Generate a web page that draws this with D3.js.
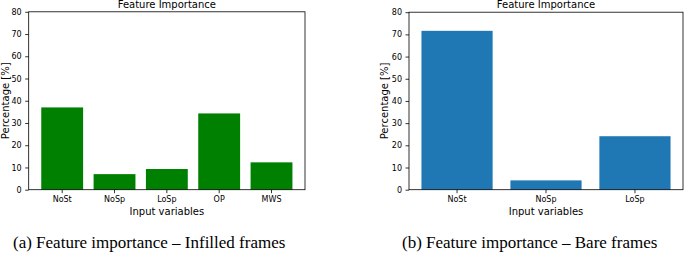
<!DOCTYPE html>
<html>
<head>
<meta charset="utf-8">
<script src="https://cdn.jsdelivr.net/npm/d3@7"></script>
<style>
  body { margin: 0; background: #fff; }
  svg text { font-family: "DejaVu Sans", sans-serif; fill: #000; }
  .caption { font-family: "Liberation Serif", "Times New Roman", serif; font-size: 17px; }
</style>
</head>
<body>
<div id="chart"></div>
<script>
// data
var infilledVars = ["NoSt", "NoSp", "LoSp", "OP", "MWS"];
var infilledValues = [37.0, 7.0, 9.3, 34.3, 12.3];
var bareVars = ["NoSt", "NoSp", "LoSp"];
var bareValues = [71.6, 4.2, 24.1];
var yTicks = [0, 10, 20, 30, 40, 50, 60, 70, 80];
var titleText = "Feature Importance";
var xLabelText = "Input variables";
var yLabelText = "Percentage [%]";
var captions = ["(a) Feature importance \u2013 Infilled frames", "(b) Feature importance \u2013 Bare frames"];

var svg = d3.select("#chart")
  .append("svg")
  .attr("width", 685)
  .attr("height", 253);

function drawPanel(box, cats, vals, color, caption, capX) {
  var n = cats.length;
  var x = d3.scaleBand()
    .domain(cats)
    .range([box.left, box.right])
    .paddingInner(0.2)
    .paddingOuter(0.05 * (n - 0.2));
  var y = d3.scaleLinear().domain([0, 80]).range([box.bottom, box.top]);

  var g = svg.append("g");

  // bars
  g.selectAll("rect.bar")
    .data(vals)
    .enter().append("rect")
    .attr("class", "bar")
    .attr("x", function (d, i) { return x(cats[i]); })
    .attr("width", x.bandwidth())
    .attr("y", function (d) { return y(d); })
    .attr("height", function (d) { return y(0) - y(d); })
    .attr("fill", color);

  // axes
  var xAxis = d3.axisBottom(x).tickSize(3.5).tickPadding(3.5);
  var yAxis = d3.axisLeft(y).tickValues(yTicks).tickSize(3.5).tickPadding(3.5);

  var gx = g.append("g")
    .attr("transform", "translate(0," + box.bottom + ")")
    .call(xAxis);
  var gy = g.append("g")
    .attr("transform", "translate(" + box.left + ",0)")
    .call(yAxis);
  [gx, gy].forEach(function (a) {
    a.select(".domain").remove();
    a.selectAll(".tick line").attr("stroke", "#000").attr("stroke-width", 0.8);
    a.selectAll(".tick text").style("font-size", "8px");
  });

  // frame
  g.append("rect")
    .attr("x", box.left)
    .attr("y", box.top)
    .attr("width", box.right - box.left)
    .attr("height", box.bottom - box.top)
    .attr("fill", "none")
    .attr("stroke", "#000")
    .attr("stroke-width", 0.8);

  var cx = (box.left + box.right) / 2;
  g.append("text")
    .attr("x", cx)
    .attr("y", 7.5)
    .attr("text-anchor", "middle")
    .style("font-size", "10px")
    .text(titleText);

  g.append("text")
    .attr("x", cx)
    .attr("y", 215)
    .attr("text-anchor", "middle")
    .style("font-size", "10px")
    .text(xLabelText);

  g.append("text")
    .attr("transform", "translate(" + box.ylab + "," + ((box.top + box.bottom) / 2) + ") rotate(-90)")
    .attr("text-anchor", "middle")
    .attr("dy", "0.35em")
    .style("font-size", "10px")
    .text(yLabelText);

  svg.append("text")
    .attr("class", "caption")
    .attr("x", capX)
    .attr("y", 248)
    .text(caption);
}

drawPanel({ left: 28.7, right: 305, top: 11.8, bottom: 189.7, ylab: 5.5 },
  infilledVars, infilledValues, "#008000", captions[0], 13);
drawPanel({ left: 409, right: 683, top: 12.2, bottom: 189.7, ylab: 384 },
  bareVars, bareValues, "#1f77b4", captions[1], 402);
</script>
</body>
</html>
